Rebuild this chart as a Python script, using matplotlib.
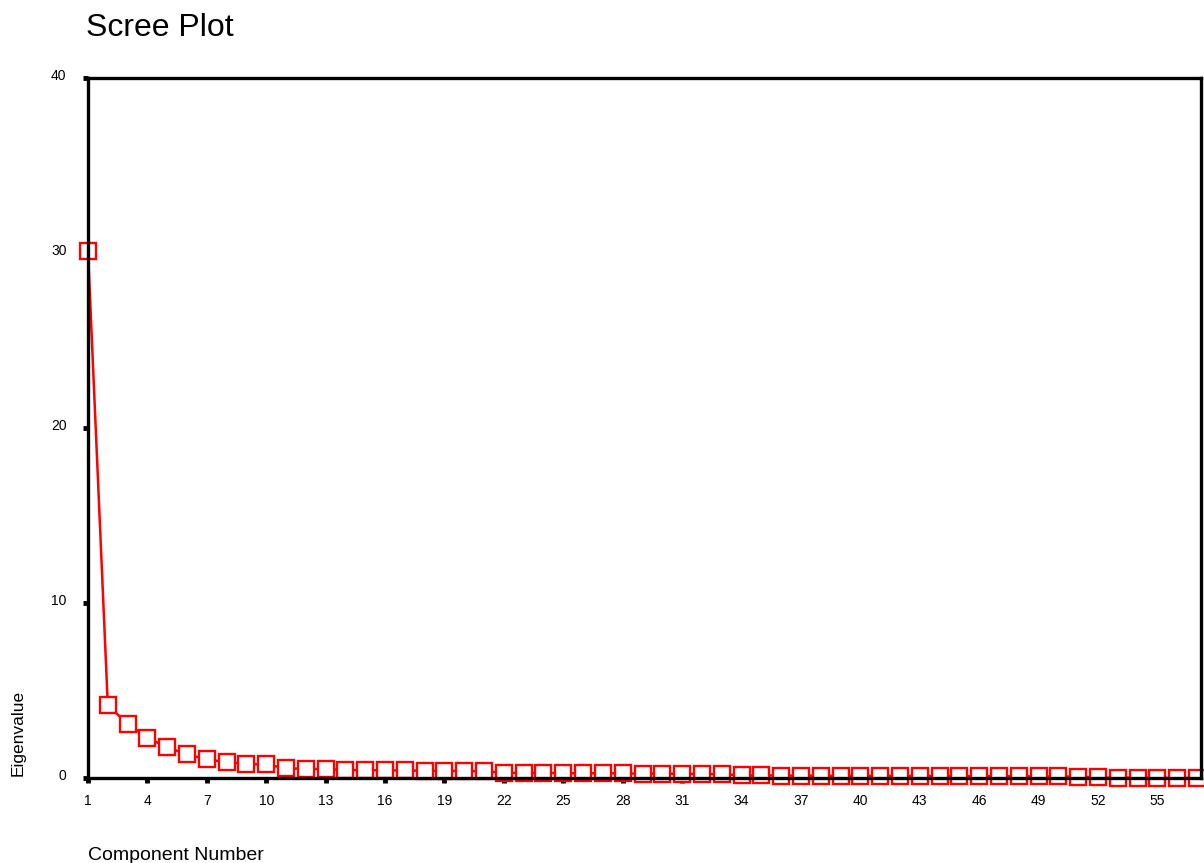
import numpy as np
import matplotlib
matplotlib.use("Agg")
import matplotlib.pyplot as plt
import matplotlib.transforms as mtransforms

plt.rcParams['font.family'] = ['Liberation Sans', 'DejaVu Sans']

# eigenvalues
components = list(range(1, 58))
eigenvalues = [30.1, 4.15, 3.1, 2.3, 1.75, 1.35, 1.07, 0.9, 0.8, 0.78,
               0.55, 0.53, 0.51,
               0.46, 0.45, 0.44, 0.43, 0.42, 0.41, 0.40, 0.39,
               0.30, 0.29, 0.29, 0.28, 0.27, 0.27, 0.26, 0.25, 0.25, 0.24, 0.23, 0.22,
               0.15, 0.15, 0.14, 0.14, 0.13, 0.13, 0.13, 0.12, 0.12, 0.12, 0.11, 0.11,
               0.11, 0.10, 0.10, 0.09, 0.09, 0.08,
               0.03, 0.02, 0.02, 0.01, 0.01, 0.0]
x_ticks = list(range(1, 56, 3))
y_ticks = [0, 10, 20, 30, 40]

fig = plt.figure(figsize=(12.04, 8.63), dpi=100)
ax = fig.add_axes([88 / 1204, 1 - 778 / 863, 1113 / 1204, 700 / 863])

ax.plot(components, eigenvalues, color='red', lw=1.8, marker='s', ms=11.3,
        mfc='white', mec='red', mew=1.7, clip_on=False)

ax.set_xlim(1, 57.2)
ax.set_ylim(0, 40)
ax.set_xticks(x_ticks)
ax.set_yticks(y_ticks)

for s in ax.spines.values():
    s.set_linewidth(2.4)
    s.set_color('black')

ax.tick_params(axis='both', direction='out', length=3.5, width=3.5, color='black',
               labelsize=10)
ax.tick_params(axis='x', pad=8)
ax.tick_params(axis='y', pad=12)

# SPSS places the y labels a little above their ticks
off = mtransforms.ScaledTranslation(0, 4 / 100, fig.dpi_scale_trans)
for lab in ax.get_yticklabels():
    lab.set_transform(lab.get_transform() + off)

fig.text(86 / 1204, 1 - 28 / 863, "Scree Plot", fontsize=23,
         ha='left', va='center')
fig.text(88 / 1204, 1 - 855 / 863, "Component Number", fontsize=14,
         ha='left', va='center')
fig.text(18 / 1204, 1 - 733 / 863, "Eigenvalue", fontsize=12.5,
         rotation=90, ha='center', va='center')

fig.savefig("out.png", dpi=100)
